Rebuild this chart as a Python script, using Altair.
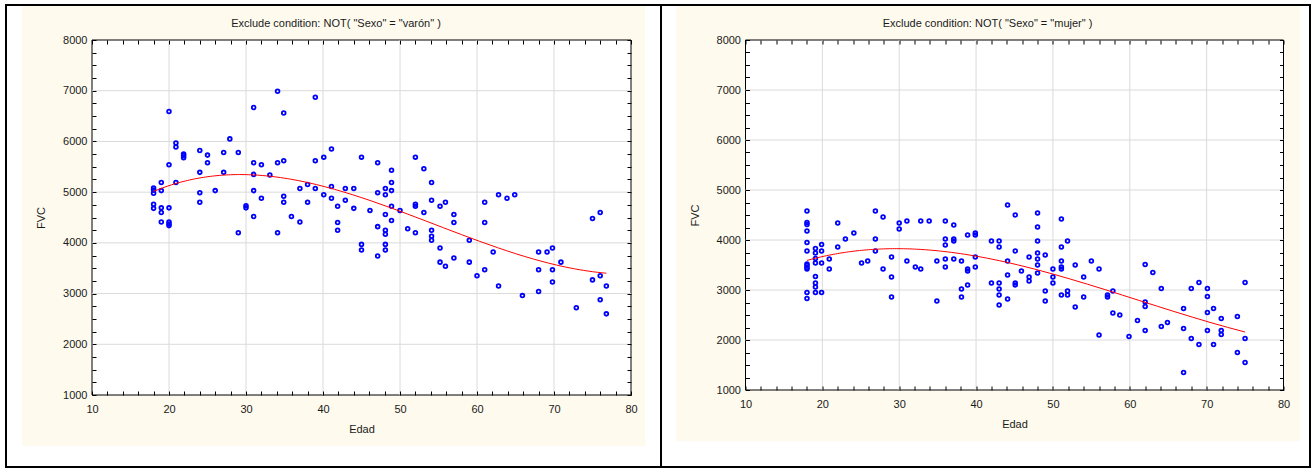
import altair as alt
import pandas as pd

TITLE_L = 'Exclude condition: NOT( "Sexo" = "varón" )'
TITLE_R = 'Exclude condition: NOT( "Sexo" = "mujer" )'

edad_L = [
    18, 18, 18, 18, 18,
    19, 19, 19, 19, 19,
    20, 20, 20, 20, 20, 20,
    20.9, 20.9, 20.9,
    21.9, 21.9, 21.9,
    24, 24, 24, 24,
    25, 25,
    26,
    27.1, 27.1,
    27.9,
    29, 29,
    30, 30,
    31, 31, 31, 31, 31,
    32, 32,
    33.1,
    34.1, 34.1, 34.1,
    34.9, 34.9, 34.9, 34.9,
    35.9,
    37, 37,
    38, 38,
    39, 39, 39,
    40.1, 40.1,
    41.1, 41.1, 41.1,
    41.9, 41.9, 41.9,
    42.9, 42.9,
    44, 44,
    45, 45, 45,
    46.1,
    47.1, 47.1, 47.1, 47.1,
    48.1, 48.1, 48.1, 48.1, 48.1, 48.1, 48.1,
    48.9, 48.9, 48.9, 48.9, 48.9,
    50,
    51,
    52, 52, 52, 52,
    53.1, 53.1,
    54.1, 54.1, 54.1, 54.1, 54.1,
    55.2, 55.2, 55.2,
    55.9, 55.9,
    57, 57, 57,
    59, 59,
    60,
    61, 61, 61,
    62.1,
    62.8, 62.8,
    63.9,
    64.9,
    65.9,
    68, 68, 68,
    69.1,
    69.8, 69.8, 69.8,
    70.9,
    72.9,
    75, 75,
    76, 76, 76,
    76.8, 76.8,
]
fvc_L = [
    5080, 5040, 4980, 4760, 4680,
    5190, 5030, 4690, 4600, 4410,
    6590, 5540, 4690, 4410, 4370, 4340,
    5970, 5890, 5190,
    5750, 5720, 5680,
    5820, 5390, 4990, 4800,
    5730, 5580,
    5030,
    5780, 5390,
    6050,
    5780, 4200,
    4730, 4690,
    6670, 5580, 5350, 5030, 4520,
    5540, 4880,
    5340,
    6990, 5580, 4200,
    6560, 5620, 4920, 4800,
    4520,
    5070, 4410,
    5150, 4800,
    6870, 5620, 5070,
    5690, 4950,
    5850, 5110, 4880,
    4720, 4400, 4250,
    5070, 4840,
    5070, 4680,
    5690, 3970, 3860,
    4640,
    5580, 4990, 4320, 3740,
    5070, 4950, 4560, 4250, 4170, 3970, 3860,
    5430, 5190, 5030, 4720, 4440,
    4640,
    4280,
    5690, 4760, 4720, 4200,
    5460, 4600,
    5190, 4840, 4250, 4130, 4050,
    4720, 3900, 3620,
    4800, 3540,
    4560, 4400, 3700,
    4050, 3620,
    3350,
    4800, 4400, 3470,
    3820,
    4950, 3150,
    4880,
    4950,
    2960,
    3820, 3470, 3040,
    3820,
    3900, 3470, 3230,
    3620,
    2720,
    4480, 3270,
    4600, 3350, 2880,
    3150, 2600,
]

edad_R = [
    18, 18, 18, 18, 18, 18, 18, 18, 18, 18, 18, 18,
    19.1, 19.1, 19.1, 19.1, 19.1, 19.1, 19.1, 19.1,
    19.9, 19.9, 19.9, 19.9,
    20.9, 20.9,
    22, 22,
    23,
    24.1,
    25.1,
    25.9,
    26.9, 26.9, 26.9,
    27.9, 27.9,
    29, 29, 29,
    30, 30,
    31, 31,
    32.1,
    32.8, 32.8,
    33.9,
    34.9, 34.9,
    36, 36, 36, 36, 36,
    37.1, 37.1, 37.1, 37.1,
    38.1, 38.1, 38.1,
    38.9, 38.9, 38.9, 38.9,
    39.9, 39.9, 39.9, 39.9,
    42, 42,
    43, 43, 43, 43, 43, 43,
    44.1, 44.1, 44.1, 44.1,
    45.1, 45.1, 45.1, 45.1,
    45.9,
    46.9, 46.9, 46.9,
    48, 48, 48, 48, 48, 48, 48,
    49, 49, 49,
    50, 50, 50,
    51.1, 51.1, 51.1, 51.1, 51.1, 51.1,
    51.9, 51.9, 51.9,
    52.9, 52.9,
    54, 54,
    55,
    56, 56,
    57.1, 57.1,
    57.8, 57.8,
    58.7,
    59.9,
    61,
    62, 62, 62, 62,
    63,
    64.1, 64.1,
    64.9,
    67, 67, 67,
    68, 68,
    69, 69,
    70.1, 70.1, 70.1, 70.1,
    70.9, 70.9,
    71.9, 71.9, 71.9,
    74, 74,
    75, 75, 75,
]
fvc_R = [
    4580, 4350, 4310, 4180, 3950, 3780, 3520, 3490, 3450, 3420, 2950, 2830,
    3830, 3740, 3630, 3540, 3270, 3140, 3060, 2950,
    3910, 3780, 3540, 2950,
    3620, 3420,
    4340, 3860,
    4020,
    4140,
    3540,
    3580,
    4580, 4020, 3780,
    4460, 3420,
    3660, 3260, 2860,
    4340, 4220,
    4380, 3580,
    3460,
    4380, 3420,
    4380,
    3580, 2780,
    4380, 4020, 3900, 3620, 3460,
    4300, 4020, 3980, 3620,
    3580, 3020, 2860,
    4100, 3420, 3380, 3100,
    4140, 4100, 3660, 3460,
    3980, 3140,
    3980, 3860, 3140, 3020, 2900, 2700,
    4700, 3580, 3300, 2820,
    4500, 3780, 3140, 3100,
    3380,
    3660, 3260, 3180,
    4540, 4260, 3980, 3740, 3620, 3500, 3340,
    3700, 2980, 2780,
    3420, 3260, 3140,
    4420, 3860, 3580, 3460, 3420, 2900,
    3980, 2980, 2900,
    3500, 2660,
    3260, 2860,
    3580,
    3420, 2100,
    2900, 2860,
    2980, 2540,
    2500,
    2070,
    2390,
    3510, 2760, 2670, 2190,
    3350,
    3030, 2270,
    2350,
    2630, 2230, 1350,
    3030, 2030,
    3150, 1910,
    3030, 2870, 2550, 2190,
    2630, 1910,
    2430, 2190, 2110,
    2470, 1750,
    3150, 2030, 1550,
]

x_major = [10, 20, 30, 40, 50, 60, 70, 80]
y_major = [1000, 2000, 3000, 4000, 5000, 6000, 7000, 8000]
x_grid = [20, 30, 40, 50, 60, 70]
y_grid = [2000, 3000, 4000, 5000, 6000, 7000]
x_minor = list(range(10, 81, 2))
y_minor = list(range(1000, 8001, 250))

FONT = "Liberation Sans"
CREAM = "#fefaee"
TXT = "#1a1a1a"


def tick_axis(orient, offset, values):
    return alt.Axis(orient=orient, offset=offset, values=values, labels=False,
                    domain=False, grid=False, ticks=True, tickSize=4,
                    tickColor="#000000", tickWidth=1, title=None, zindex=1)


def panel(edad, fvc, title, W, H, cream_box, frame_box, title_x):
    df = pd.DataFrame({"Edad": edad, "FVC": fvc})
    one = pd.DataFrame({"k": [0]})
    xs = alt.Scale(domain=[10, 80], nice=False, zero=False)
    ys = alt.Scale(domain=[1000, 8000], nice=False, zero=False)

    main_x = alt.Axis(orient="bottom", values=x_major, format="d", labelFont=FONT,
                      labelFontSize=11, labelColor=TXT, labelPadding=8, labelFlush=False,
                      labelOverlap=False, ticks=False, domain=False, grid=False,
                      title="Edad", titleFont=FONT, titleFontSize=11,
                      titleFontWeight="normal", titleColor=TXT, titlePadding=9, zindex=1)
    main_y = alt.Axis(orient="left", values=y_major, format="d", labelFont=FONT,
                      labelFontSize=11, labelColor=TXT, labelPadding=5,
                      labelOverlap=False, ticks=False, domain=False, grid=False,
                      title="FVC", titleFont=FONT, titleFontSize=11,
                      titleFontWeight="normal", titleColor=TXT, titlePadding=16, zindex=1)

    outer = alt.Chart(one).mark_rect(fillOpacity=0, stroke="#000000", strokeWidth=2).encode(
        x=alt.value(frame_box[0]), x2=alt.value(frame_box[1]),
        y=alt.value(frame_box[2]), y2=alt.value(frame_box[3]))
    cream = alt.Chart(one).mark_rect(fill=CREAM).encode(
        x=alt.value(cream_box[0]), x2=alt.value(cream_box[1]),
        y=alt.value(cream_box[2]), y2=alt.value(cream_box[3]))
    head = alt.Chart(one).mark_text(font=FONT, fontSize=11, color=TXT, align="center",
                                    baseline="middle").encode(
        x=alt.value(title_x), y=alt.value(-16), text=alt.value(title))
    plot_bg = alt.Chart(one).mark_rect(fill="#ffffff", stroke="#000000", strokeWidth=1).encode(
        x=alt.value(0), x2=alt.value(W), y=alt.value(0), y2=alt.value(H))

    gridx = alt.Chart(pd.DataFrame({"g": x_grid})).mark_rule(color="#dadada", strokeWidth=1).encode(
        x=alt.X("g:Q", scale=xs, axis=tick_axis("top", -H, x_minor)))
    gridy = alt.Chart(pd.DataFrame({"g": y_grid})).mark_rule(color="#dadada", strokeWidth=1).encode(
        y=alt.Y("g:Q", scale=ys, axis=tick_axis("right", -W, y_minor)))

    points = alt.Chart(df).mark_point(shape="circle", filled=False, color="#0000ff",
                                      size=14, strokeWidth=1.8, opacity=1).encode(
        x=alt.X("Edad:Q", scale=xs, axis=main_x),
        y=alt.Y("FVC:Q", scale=ys, axis=main_y))

    fit = alt.Chart(df).transform_regression("Edad", "FVC", method="poly", order=3).mark_line(
        color="#ff0000", strokeWidth=1).encode(
        x=alt.X("Edad:Q", scale=xs, axis=tick_axis("bottom", -H, x_minor)),
        y=alt.Y("FVC:Q", scale=ys, axis=tick_axis("left", -W, y_minor)))

    return alt.layer(outer, cream, head, plot_bg, gridx, gridy, points, fit).resolve_scale(
        x="independent", y="independent").resolve_axis(
        x="independent", y="independent").properties(width=W, height=H)


left = panel(edad_L, fvc_L, TITLE_L, 539, 355,
             cream_box=(-70, 553, -34, 406), frame_box=(-86, 569, -35, 427), title_x=244)
right = panel(edad_R, fvc_R, TITLE_R, 538, 350,
              cream_box=(-69.5, 554.5, -34, 401), frame_box=(-84.5, 564.5, -35, 427), title_x=242)

chart = alt.hconcat(left, right, spacing=114.5, bounds="flush").properties(
    padding={"left": 5, "top": 4, "right": 3, "bottom": 1},
    background="#ffffff",
).configure_view(strokeWidth=0)

chart.save("out.html", embed_options={"renderer": "svg", "actions": False})
